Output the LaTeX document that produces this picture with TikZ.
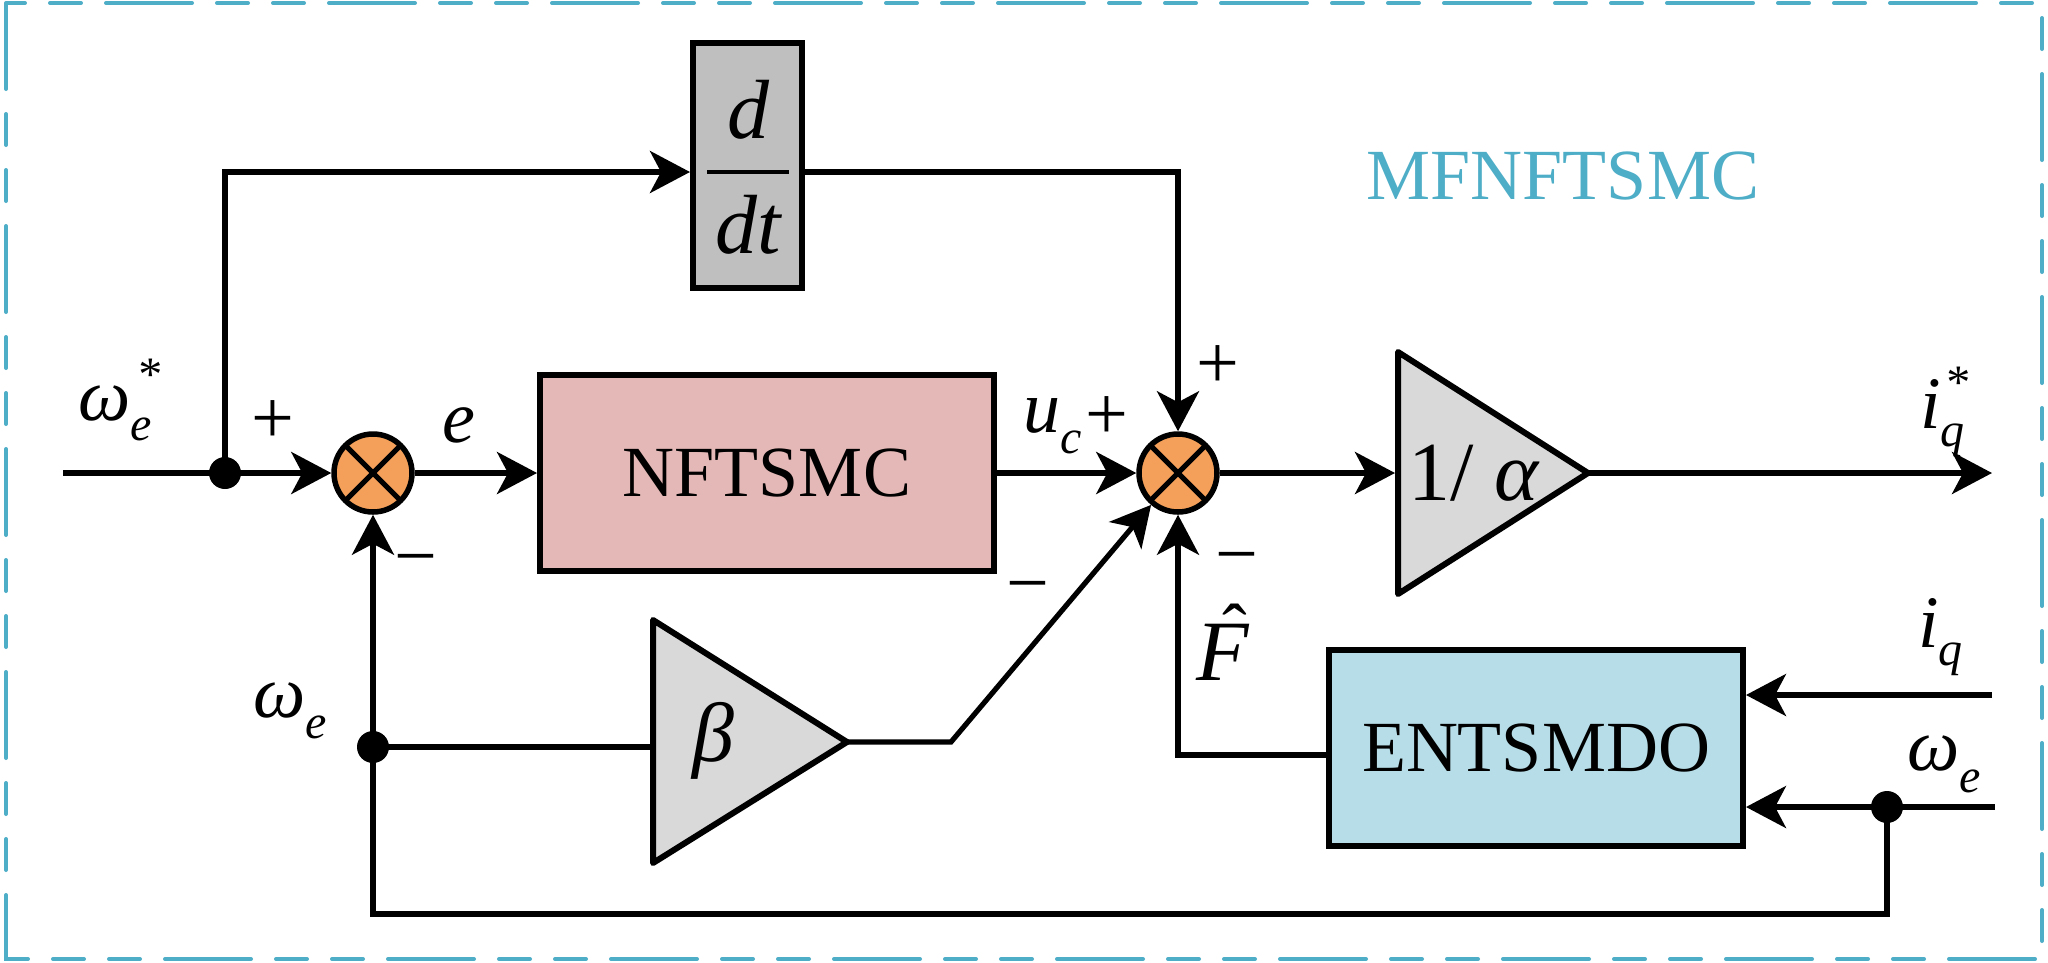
\documentclass[tikz,border=0pt]{standalone}
\usepackage{fontspec}
\setmainfont{Liberation Serif}
\usetikzlibrary{arrows.meta,calc}
\definecolor{framecol}{HTML}{4EADC7}
\definecolor{pinkfill}{HTML}{E4B8B6}
\definecolor{bluefill}{HTML}{B7DEE8}
\definecolor{ddtfill}{HTML}{BFBFBF}
\definecolor{trifill}{HTML}{D8D9D8}
\definecolor{orng}{HTML}{F4A05A}
\newcommand\mylbl{\fontsize{74}{74}\selectfont\itshape}
\newcommand\mysub{\fontsize{48}{48}\selectfont\itshape}
\newcommand\myblk{\fontsize{84}{84}\selectfont}
\newcommand\mytxt{\fontsize{72}{72}\selectfont}
\newcommand\mysgn{\fontsize{76}{76}\selectfont}
\newcommand\mybigF{\fontsize{86}{86}\selectfont\itshape}
\begin{document}
\begin{tikzpicture}[x=1pt,y=-1pt,
  ln/.style={line width=5.2pt},
  arr/.style={ln,-{Stealth[length=40pt,width=42pt,inset=11pt]}},
  blockbox/.style={draw,line width=6pt,inner sep=0pt},
  sumj/.style={circle,draw,fill=orng,line width=5.5pt,minimum size=78pt,inner sep=0pt},
  junc/.style={circle,fill=black,minimum size=32pt,inner sep=0pt},
  lab/.style={inner sep=0pt,outer sep=0pt,anchor=base west},
  sgn/.style={inner sep=0pt,outer sep=0pt,font=\mysgn},
  tri/.style={line width=6pt,line join=round,fill=trifill,draw=black}
]
\useasboundingbox (0,0) rectangle (2048,962);
% frame
\draw[framecol,line width=4pt,line cap=round,
  dash pattern=on 86pt off 25pt on 31pt off 25pt on 31pt off 25pt]
  (6,3) -- (6,959) -- (2042,959) -- (2042,3) -- cycle;
\node[framecol,font=\mytxt,inner sep=0pt] (title) at (1563,176) {MFNFTSMC};

% blocks
\node[blockbox,fill=ddtfill,minimum width=109pt,minimum height=245pt] (ddt) at (747.5,165.5) {};
\node[blockbox,fill=pinkfill,minimum width=454pt,minimum height=196pt,font=\mytxt] (nft) at (767,473) {NFTSMC};
\node[blockbox,fill=bluefill,minimum width=414pt,minimum height=196pt,font=\mytxt] (ent) at (1536,748) {ENTSMDO};
\node[sumj] (j1) at (373,473) {};
\node[sumj] (j2) at (1178,473) {};
\foreach \j in {j1,j2}{
  \draw[line width=5pt] ($(\j.center)+(45:37pt)$) -- ($(\j.center)+(225:37pt)$);
  \draw[line width=5pt] ($(\j.center)+(135:37pt)$) -- ($(\j.center)+(315:37pt)$);
}
% gain triangles
\draw[tri] (1398,352) -- (1398,594) -- (1588,473) -- cycle;
\draw[tri] (653,620) -- (653,863) -- (847,742) -- cycle;
\coordinate (ain) at (1395,473);
\coordinate (aout) at (1588,473);
\coordinate (bin) at (651,747);
\coordinate (bout) at (847,742);

% free ends
\coordinate (win) at (63,473);
\coordinate (out) at (1992,473);
\coordinate (iqin) at (1992,695);
\coordinate (wein) at (1995,807);
\coordinate (kink) at (951,742);
\coordinate (fbr) at (1887,914);

% dots
\node[junc] (d1) at (225,473) {};
\node[junc] (d2) at (1887,807) {};
\node[junc] (d3) at (373,747) {};

% connectors
\draw[arr] (win) -- (j1);
\draw[arr] (d1.center) |- ([yshift=-6.5pt]ddt.west);
\draw[arr] ([yshift=-6.5pt]ddt.east) -| (j2);
\draw[arr] (j1) -- (nft);
\draw[arr] (nft) -- (j2);
\draw[arr] (j2) -- (ain);
\draw[arr] (aout) -- (out);
\draw[arr] (bout) -- (kink) -- (j2);
\draw[arr] ([yshift=-7pt]ent.west) -| (j2);
\draw[arr] (iqin) -- (iqin -| ent.east);
\draw[arr] (wein) -- (wein -| ent.east);
\draw[arr] (d2.center) -- (fbr) -| (j1);
\draw[ln] (d3.center) -- (bin);

% d/dt
\node[inner sep=0pt,anchor=base] (ld) at (748,138) {\myblk\itshape d};
\node[inner sep=0pt,anchor=base] (ldt) at (748,253) {\myblk\itshape dt};
\draw[line width=4pt] (707,172) -- (789,172);

% block labels
\node[inner sep=0pt] (lb) at (713,741) {\myblk\itshape β};
\node[lab] (la) at (1408,500) {\myblk 1/ \textit{α}};

% signal labels
\node[lab] (lwst) at (78,420) {\mylbl ω\rlap{\raisebox{-20pt}{\mysub e}}\hspace{6pt}\raisebox{30pt}{\mysub *}};
\node[lab] (le) at (442,442) {\mylbl e};
\node[sgn] (p1) at (273,422) {+};
\node[sgn] (m1) at (416,568) {−};
\node[lab] (luc) at (1023,432) {\mylbl u\raisebox{-21pt}{\mysub c}};
\node[sgn] (p2) at (1107,418) {+};
\node[sgn] (p3) at (1218,367) {+};
\node[sgn] (m2) at (1028,595) {−};
\node[sgn] (m3) at (1237,566) {−};
\node[lab] (lF) at (1196,680) {\mybigF F\llap{\raisebox{25pt}{\mylbl\upshape ˆ}\hspace{1pt}}};
\node[lab] (liqs) at (1920,428) {\mylbl i\rlap{\raisebox{-18pt}{\mysub q}}\hspace{4pt}\raisebox{30pt}{\mysub *}};
\node[lab] (liq) at (1918,647) {\mylbl i\raisebox{-18pt}{\mysub q}};
\node[lab] (lwr) at (1907,770) {\mylbl ω\raisebox{-22pt}{\mysub e}};
\node[lab] (lwl) at (253,717) {\mylbl ω\raisebox{-21pt}{\mysub e}};
\end{tikzpicture}
\end{document}
